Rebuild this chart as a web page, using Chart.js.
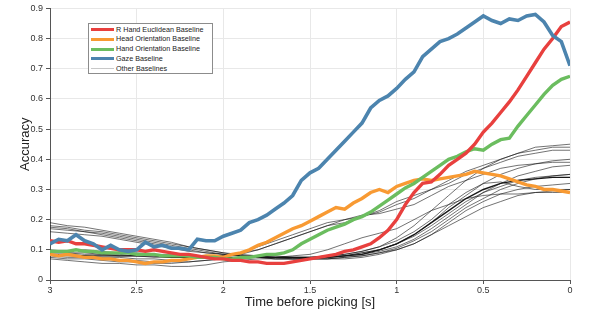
<!DOCTYPE html>
<html>
<head>
<meta charset="utf-8">
<script src="https://cdn.jsdelivr.net/npm/chart.js@4.4.0/dist/chart.umd.min.js"></script>
<style>
  html, body { margin: 0; padding: 0; background: #fff; }
  #wrap { position: relative; width: 598px; height: 314px; }
  #legend {
    position: absolute; left: 88px; top: 23px; width: 125px; height: 51px;
    border: 1px solid #8c8c8c; background: #fff; box-sizing: border-box;
    font-family: "Liberation Sans", Arial, sans-serif; font-size: 7.2px; color: #222;
    padding-top: 0.5px;
  }
  #legend .row { height: 9.75px; line-height: 9.75px; white-space: nowrap; }
  #legend .sw { display: inline-block; width: 23px; vertical-align: middle; margin: 0 2px 0 2px; }
</style>
</head>
<body>
<div id="wrap">
  <canvas id="c" width="598" height="314"></canvas>
  <div id="legend"></div>
</div>
<script>
// time grid (seconds before picking)
var timesFine = [3.00,2.95,2.90,2.85,2.80,2.75,2.70,2.65,2.60,2.55,2.50,2.45,2.40,2.35,2.30,2.25,2.20,2.15,2.10,2.05,
  2.00,1.95,1.90,1.85,1.80,1.75,1.70,1.65,1.60,1.55,1.50,1.45,1.40,1.35,1.30,1.25,1.20,1.15,1.10,1.05,
  1.00,0.95,0.90,0.85,0.80,0.75,0.70,0.65,0.60,0.55,0.50,0.45,0.40,0.35,0.30,0.25,0.20,0.15,0.10,0.05,0.00];
var timesCoarse = [3.0,2.9,2.8,2.7,2.6,2.5,2.4,2.3,2.2,2.1,2.0,1.9,1.8,1.7,1.6,1.5,1.4,1.3,1.2,1.1,
  1.0,0.9,0.8,0.7,0.6,0.5,0.4,0.3,0.2,0.1,0.0];

var seriesNames = ["R Hand Euclidean Baseline", "Head Orientation Baseline", "Hand Orientation Baseline", "Gaze Baseline", "Other Baselines"];

var gaze = [0.12,0.135,0.13,0.15,0.13,0.12,0.10,0.115,0.10,0.095,0.10,0.125,0.11,0.115,0.105,0.105,0.10,0.135,0.13,0.13,
  0.145,0.155,0.165,0.19,0.20,0.215,0.235,0.255,0.28,0.33,0.355,0.37,0.40,0.43,0.46,0.49,0.52,0.57,0.595,0.61,
  0.635,0.665,0.69,0.74,0.765,0.79,0.80,0.815,0.835,0.855,0.875,0.86,0.85,0.865,0.86,0.875,0.88,0.855,0.81,0.79,0.71];
var rHand = [0.13,0.125,0.13,0.12,0.12,0.115,0.11,0.105,0.10,0.10,0.10,0.095,0.10,0.095,0.09,0.085,0.085,0.08,0.075,0.07,
  0.07,0.065,0.065,0.06,0.06,0.055,0.055,0.055,0.06,0.065,0.07,0.075,0.08,0.085,0.095,0.10,0.11,0.12,0.14,0.165,
  0.20,0.25,0.29,0.32,0.325,0.35,0.38,0.40,0.42,0.45,0.49,0.52,0.555,0.59,0.63,0.675,0.72,0.765,0.80,0.84,0.855];
var headOri = [0.085,0.08,0.085,0.08,0.075,0.075,0.07,0.07,0.065,0.065,0.06,0.055,0.06,0.06,0.065,0.065,0.07,0.075,0.08,0.08,
  0.075,0.085,0.09,0.10,0.115,0.125,0.14,0.155,0.17,0.18,0.195,0.21,0.225,0.24,0.235,0.255,0.27,0.29,0.30,0.29,
  0.31,0.32,0.33,0.335,0.33,0.335,0.34,0.345,0.35,0.36,0.355,0.35,0.345,0.335,0.325,0.315,0.31,0.30,0.30,0.295,0.29];
var handOri = [0.095,0.095,0.095,0.10,0.095,0.095,0.09,0.09,0.09,0.09,0.085,0.085,0.085,0.08,0.08,0.08,0.08,0.075,0.075,0.075,
  0.07,0.07,0.075,0.075,0.08,0.085,0.085,0.09,0.10,0.12,0.135,0.15,0.165,0.175,0.185,0.20,0.21,0.225,0.245,0.265,
  0.285,0.305,0.32,0.34,0.36,0.38,0.40,0.41,0.425,0.435,0.43,0.45,0.465,0.47,0.51,0.545,0.58,0.615,0.645,0.665,0.675];

// other baselines (thin lines), sampled every 0.1 s
var other1 = [0.19,0.18,0.175,0.165,0.155,0.145,0.135,0.125,0.11,0.10,0.09,0.085,0.08,0.08,0.075,0.075,0.08,0.085,0.095,0.11,0.14,0.18,0.23,0.28,0.33,0.37,0.40,0.42,0.44,0.445,0.45];
var other2 = [0.18,0.175,0.165,0.16,0.15,0.14,0.13,0.12,0.11,0.10,0.09,0.08,0.08,0.075,0.075,0.07,0.075,0.08,0.09,0.10,0.12,0.15,0.19,0.24,0.28,0.32,0.35,0.37,0.385,0.395,0.40];
var other3 = [0.175,0.17,0.16,0.155,0.145,0.135,0.125,0.115,0.105,0.095,0.085,0.08,0.075,0.07,0.07,0.07,0.07,0.075,0.08,0.09,0.105,0.13,0.16,0.20,0.24,0.27,0.30,0.32,0.335,0.345,0.35];
var other4 = [0.17,0.165,0.16,0.15,0.14,0.13,0.12,0.11,0.10,0.09,0.085,0.08,0.075,0.075,0.07,0.07,0.07,0.07,0.075,0.085,0.10,0.12,0.15,0.19,0.23,0.26,0.285,0.30,0.31,0.315,0.32];
var other5 = [0.16,0.155,0.15,0.145,0.135,0.125,0.115,0.105,0.095,0.09,0.085,0.08,0.08,0.075,0.075,0.075,0.08,0.085,0.095,0.11,0.13,0.16,0.20,0.25,0.29,0.32,0.325,0.31,0.30,0.30,0.30];
var other6 = [0.10,0.095,0.10,0.095,0.09,0.09,0.085,0.085,0.08,0.08,0.08,0.085,0.10,0.12,0.14,0.16,0.18,0.19,0.21,0.225,0.25,0.27,0.30,0.33,0.36,0.38,0.40,0.42,0.43,0.44,0.44];
var other7 = [0.09,0.09,0.085,0.085,0.08,0.08,0.075,0.075,0.075,0.075,0.08,0.09,0.11,0.13,0.15,0.17,0.19,0.20,0.21,0.23,0.26,0.28,0.30,0.32,0.35,0.37,0.39,0.41,0.42,0.43,0.43];
var other8 = [0.085,0.08,0.08,0.075,0.075,0.07,0.07,0.065,0.07,0.075,0.08,0.09,0.10,0.12,0.14,0.16,0.18,0.20,0.215,0.22,0.235,0.25,0.28,0.31,0.33,0.35,0.37,0.38,0.385,0.39,0.39];
var other9 = [0.08,0.075,0.075,0.07,0.065,0.065,0.06,0.06,0.06,0.065,0.07,0.07,0.075,0.075,0.08,0.085,0.10,0.12,0.14,0.155,0.17,0.20,0.23,0.25,0.27,0.28,0.285,0.285,0.29,0.29,0.29];
var other10 = [0.075,0.07,0.07,0.065,0.06,0.06,0.055,0.055,0.06,0.065,0.07,0.075,0.075,0.075,0.075,0.075,0.075,0.08,0.085,0.095,0.11,0.135,0.17,0.21,0.25,0.29,0.32,0.345,0.36,0.375,0.38];
var other11 = [0.07,0.065,0.06,0.055,0.055,0.05,0.05,0.045,0.045,0.05,0.06,0.065,0.07,0.07,0.07,0.07,0.07,0.075,0.08,0.09,0.10,0.12,0.15,0.18,0.21,0.24,0.26,0.28,0.29,0.295,0.30];
var other12 = [0.095,0.09,0.09,0.085,0.085,0.08,0.08,0.075,0.075,0.075,0.075,0.075,0.075,0.07,0.07,0.07,0.075,0.08,0.09,0.10,0.12,0.145,0.18,0.22,0.26,0.29,0.31,0.33,0.34,0.345,0.35];
var other13 = [0.085,0.085,0.08,0.08,0.08,0.08,0.08,0.075,0.075,0.075,0.075,0.075,0.075,0.075,0.075,0.075,0.075,0.08,0.085,0.10,0.12,0.15,0.19,0.23,0.27,0.30,0.32,0.33,0.335,0.34,0.34];
var others = [other1, other2, other3, other4, other5, other6, other7, other8, other9, other10, other11, other12, other13];

var xTicks = [3, 2.5, 2, 1.5, 1, 0.5, 0];

var colRed = "#e8403e", colOrange = "#f89a33", colGreen = "#6bbd5f", colBlue = "#4c84ae", colOther = "#c8c8c8";

function pts(times, vals) {
  return vals.map(function (v, i) { return { x: times[i], y: v }; });
}

var datasets = [
  { label: seriesNames[3], data: pts(timesFine, gaze), borderColor: colBlue, borderWidth: 3.6 },
  { label: seriesNames[0], data: pts(timesFine, rHand), borderColor: colRed, borderWidth: 3.4 },
  { label: seriesNames[2], data: pts(timesFine, handOri), borderColor: colGreen, borderWidth: 3.4 },
  { label: seriesNames[1], data: pts(timesFine, headOri), borderColor: colOrange, borderWidth: 3.4 }
];
others.forEach(function (o, i) {
  datasets.push({ label: seriesNames[4] + " " + (i + 1), data: pts(timesCoarse, o),
    borderColor: i === 12 ? "rgba(0,0,0,0.9)" : "rgba(20,20,20,0.75)", borderWidth: i === 12 ? 1.4 : 0.8 });
});
datasets.forEach(function (d) { d.pointRadius = 0; d.tension = 0; d.fill = false; });

new Chart(document.getElementById("c").getContext("2d"), {
  type: "line",
  data: { datasets: datasets },
  options: {
    responsive: false,
    animation: false,
    layout: { padding: { left: 14, right: 28, top: 7, bottom: 0 } },
    plugins: { legend: { display: false }, tooltip: { enabled: false } },
    scales: {
      x: {
        type: "linear", reverse: true, min: 0, max: 3,
        afterBuildTicks: function (s) { s.ticks = xTicks.map(function (v) { return { value: v }; }); },
        ticks: { color: "#333", font: { family: "Liberation Sans", size: 9 }, padding: 1, maxRotation: 0,
          callback: function (v) { return String(v); } },
        grid: { color: "#e8e8e8", tickLength: 4, tickColor: "#555" },
        border: { color: "#555" },
        title: { display: true, text: "Time before picking [s]", color: "#222", font: { family: "Liberation Sans", size: 13 }, padding: { top: 0 } },
        afterFit: function (s) { s.height = 34; }
      },
      y: {
        min: 0, max: 0.9,
        ticks: { stepSize: 0.1, color: "#333", font: { family: "Liberation Sans", size: 9 }, padding: 3 },
        grid: { color: "#e8e8e8", tickLength: 4, tickColor: "#555" },
        border: { color: "#555" },
        title: { display: true, text: "Accuracy", color: "#222", font: { family: "Liberation Sans", size: 13 } },
        afterFit: function (s) { s.width = 36; }
      }
    }
  }
});

// legend drawn as html
var legendItems = [[seriesNames[0], colRed], [seriesNames[1], colOrange], [seriesNames[2], colGreen], [seriesNames[3], colBlue], [seriesNames[4], colOther]];
var lg = document.getElementById("legend");
legendItems.forEach(function (it, i) {
  var r = document.createElement("div");
  r.className = "row";
  var sw = document.createElement("span");
  sw.className = "sw";
  sw.style.borderTop = (i === 4 ? 1.5 : 3) + "px solid " + it[1];
  r.appendChild(sw);
  r.appendChild(document.createTextNode(it[0]));
  lg.appendChild(r);
});
</script>
</body>
</html>
